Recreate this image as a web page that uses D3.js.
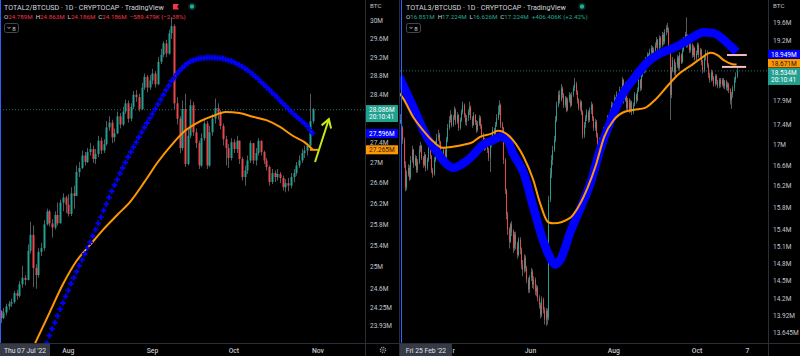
<!DOCTYPE html>
<html><head><meta charset="utf-8">
<script src="https://cdn.jsdelivr.net/npm/d3@7"></script>
<style>
html,body{margin:0;padding:0;background:#000;}
svg{display:block;font-family:Roboto,"Liberation Sans",sans-serif;}
</style></head><body>
<script>
// ---------- left chart: TOTAL2/BTCUSD 1D (values in M)
var leftStart = "2022-07-07";
var leftOpen0 = 24.20;
var leftClose = [24.07,24.17,24.28,24.33,24.36,24.52,24.47,24.68,24.80,24.76,
  25.30,25.60,24.98,24.85,25.28,25.35,25.80,26.05,25.82,25.74,
  25.98,25.82,26.22,26.32,26.18,26.00,26.40,26.35,26.82,26.90,
  27.15,27.02,27.22,27.28,27.08,27.18,27.45,27.25,27.38,27.72,
  27.82,27.52,27.60,27.95,27.78,28.05,28.22,27.90,28.15,28.40,
  28.35,28.10,28.55,28.78,28.55,28.70,28.85,28.62,29.10,29.25,
  29.50,29.28,29.72,29.88,28.22,27.90,27.30,28.10,26.98,27.55,
  28.18,27.62,27.40,26.95,27.50,27.80,26.95,27.62,27.90,28.12,
  28.02,27.75,27.48,27.30,27.10,27.42,27.28,27.45,27.08,26.72,
  26.85,27.05,27.40,27.05,27.20,27.45,27.22,27.05,26.92,26.62,
  26.80,26.72,26.78,26.70,26.52,26.60,26.55,26.72,26.80,26.95,
  27.05,27.20,27.25,27.35,27.85,28.09];
var leftHigh = [24.21,24.25,24.33,24.38,24.42,24.56,24.58,24.74,25.02,24.85,
  25.42,25.85,25.78,25.05,25.35,25.45,25.88,26.10,26.08,25.90,
  26.05,26.22,26.28,26.40,26.35,26.38,26.52,26.55,26.95,27.02,
  27.25,27.22,27.30,27.40,27.35,27.28,27.55,27.52,27.48,27.85,
  27.95,27.88,27.70,28.05,28.02,28.15,28.30,28.28,28.22,28.48,
  28.50,28.42,28.65,28.85,28.82,28.82,28.95,28.90,29.20,29.38,
  29.55,29.58,29.80,30.08,29.92,28.35,27.95,28.28,28.42,27.70,
  28.30,28.25,27.70,27.45,27.60,27.92,27.85,27.75,28.00,28.32,
  28.22,28.08,27.80,27.55,27.38,27.50,27.48,27.55,27.45,27.12,
  26.95,27.15,27.45,27.38,27.30,27.50,27.45,27.25,27.10,26.95,
  26.88,26.85,26.88,26.82,26.75,26.68,26.70,26.80,26.88,27.02,
  27.15,27.28,27.35,27.40,28.42,28.12];
var leftLow = [23.98,24.05,24.12,24.22,24.27,24.33,24.40,24.44,24.62,24.66,
  24.75,25.25,24.63,24.60,24.80,25.20,25.30,25.78,25.76,25.55,
  25.70,25.78,25.85,26.05,26.02,25.95,25.96,26.10,26.42,26.72,
  26.88,26.95,27.00,27.15,27.00,26.98,27.12,27.18,27.20,27.35,
  27.65,27.40,27.42,27.58,27.70,27.75,28.00,27.82,27.85,28.10,
  28.25,28.05,28.08,28.50,28.45,28.50,28.62,28.55,28.60,29.05,
  29.20,29.20,29.25,29.60,28.10,27.78,27.20,27.25,26.92,26.95,
  27.50,27.55,27.30,26.88,26.92,27.45,26.88,26.92,27.55,27.80,
  27.88,27.68,27.35,26.95,26.90,27.05,27.20,27.20,26.98,26.65,
  26.55,26.78,27.00,26.98,26.95,27.15,27.15,26.98,26.85,26.55,
  26.58,26.62,26.65,26.60,26.45,26.42,26.44,26.50,26.62,26.75,
  26.90,27.00,27.10,27.15,27.30,27.80];
// blue cross study, one value per bar from bar 16 on
var leftBlueFirst = 16;
var leftBlue = [23.51,23.63,23.76,23.88,23.99,24.11,24.23,24.34,24.46,24.57,
  24.69,24.80,24.91,25.02,25.13,25.24,25.35,25.46,25.58,25.70,
  25.82,25.94,26.07,26.19,26.32,26.44,26.56,26.67,26.79,26.90,
  27.01,27.12,27.22,27.32,27.42,27.52,27.62,27.72,27.81,27.91,
  28.00,28.10,28.20,28.30,28.40,28.50,28.59,28.69,28.76,28.84,
  28.91,28.97,29.02,29.07,29.11,29.13,29.15,29.17,29.18,29.18,
  29.19,29.19,29.19,29.19,29.18,29.18,29.17,29.15,29.13,29.12,
  29.09,29.06,29.03,29.00,28.96,28.92,28.88,28.83,28.78,28.73,
  28.67,28.62,28.56,28.51,28.45,28.40,28.34,28.28,28.22,28.17,
  28.11,28.05,28.00,27.95,27.90,27.85,27.80,27.75,27.67,27.60];
// orange MA: [bar, value]
var leftOrange = [[10,23.35],[13,23.65],[18,24.16],[23,24.68],[28,25.11],[33,25.41],[38,25.71],
  [43,25.98],[48,26.25],[53,26.62],[58,27.02],[63,27.36],[68,27.65],[73,27.83],[78,27.95],
  [83,28.04],[88,28.02],[93,27.94],[98,27.87],[103,27.73],[108,27.54],[112,27.42],[115,27.27]];
var leftTicks = [30, 29.6, 29.2, 28.8, 28.4, 27.4, 27, 26.6, 26.2, 25.8, 25.4, 25, 24.6, 24.25, 23.93];
var leftMonths = ["2022-08-01","2022-09-01","2022-10-01","2022-11-01"];
var leftMonthLabels = ["Aug","Sep","Oct","Nov"];
var leftLast = 28.086, leftBlueLast = 27.596, leftOrangeLast = 27.265;
var leftArrowDays = [115.9, 121.0], leftArrowVals = [27.02, 27.89];

// ---------- right chart: TOTAL3/BTCUSD 1D
var rightStart = "2022-02-25";
var rightOpen0 = 17.45;
var rightClose = [17.50,17.34,17.10,16.61,16.17,16.42,16.55,16.36,16.70,16.90,
  16.61,16.74,16.51,16.66,16.90,16.98,16.74,16.61,16.80,16.55,
  16.70,16.94,16.78,16.51,16.42,16.70,17.00,17.14,17.20,17.06,
  16.80,16.70,16.90,16.76,17.10,17.34,17.50,17.60,17.40,17.54,
  17.71,17.46,17.60,17.34,17.50,17.66,17.81,17.60,17.46,17.54,
  17.66,17.77,17.54,17.40,17.60,17.46,17.30,17.42,17.54,17.38,
  17.20,17.10,16.94,17.06,16.90,16.74,17.00,17.10,17.30,17.20,
  17.40,17.54,17.66,17.81,17.40,17.34,16.70,16.13,15.67,15.40,
  15.18,15.49,15.36,15.07,15.31,15.13,14.95,15.22,15.04,14.78,
  14.69,14.90,14.72,14.52,14.36,14.56,14.66,14.44,14.52,14.32,
  14.39,14.22,14.10,13.94,14.19,14.02,13.86,14.00,13.89,15.94,
  16.42,16.70,16.90,17.10,17.50,17.81,18.02,17.91,18.16,18.02,
  17.81,17.95,17.71,17.91,18.02,17.81,18.02,18.16,18.25,18.08,
  17.91,17.75,17.87,17.66,17.20,17.40,17.54,17.66,17.50,17.71,
  17.81,17.54,17.34,17.46,17.20,17.00,17.10,16.90,17.14,17.30,
  17.10,17.40,17.54,17.34,17.66,17.81,17.71,17.95,17.81,18.02,
  17.91,18.12,18.02,18.34,17.91,18.23,17.75,17.91,17.71,17.87,
  17.66,17.81,18.02,17.91,18.12,18.34,18.16,18.45,18.66,18.55,
  18.77,18.88,18.73,18.95,19.04,18.82,18.99,19.10,19.21,19.04,
  19.26,19.10,19.33,19.17,19.40,19.49,19.44,18.99,18.02,18.55,
  18.77,18.50,18.66,18.82,18.60,18.88,18.73,18.99,19.21,19.33,
  19.10,19.26,18.99,19.10,18.88,19.04,18.82,18.93,19.10,18.88,
  18.99,18.73,18.55,18.82,18.93,18.66,18.45,18.34,18.50,18.38,
  18.25,18.42,18.30,18.21,18.34,18.25,18.34,18.21,18.30,18.18,
  18.25,18.12,17.91,18.02,18.16,18.34,18.42,18.53];
var rightHigh = [17.62,17.55,17.38,17.15,16.68,16.50,16.62,16.60,16.78,16.98,
  16.92,16.80,16.78,16.72,16.98,17.06,17.00,16.78,16.86,16.82,
  16.75,17.02,16.98,16.80,16.55,16.76,17.08,17.22,17.30,17.24,
  17.08,16.84,16.95,16.94,17.16,17.42,17.58,17.70,17.62,17.60,
  17.78,17.74,17.66,17.62,17.55,17.72,17.88,17.84,17.64,17.60,
  17.72,17.88,17.80,17.58,17.66,17.62,17.50,17.48,17.60,17.58,
  17.42,17.24,17.14,17.12,17.10,16.94,17.05,17.18,17.36,17.34,
  17.46,17.62,17.80,17.91,17.84,17.46,17.36,16.74,16.15,15.72,
  15.44,15.52,15.55,15.40,15.36,15.36,15.18,15.26,15.26,15.08,
  14.86,14.96,14.94,14.76,14.56,14.60,14.72,14.70,14.58,14.56,
  14.44,14.42,14.26,14.14,14.24,14.22,14.06,14.05,14.04,16.02,
  16.55,16.80,16.98,17.18,17.58,17.88,18.10,18.12,18.25,18.20,
  18.06,18.00,17.98,17.96,18.08,18.05,18.08,18.22,18.38,18.30,
  18.12,17.95,17.92,17.90,17.70,17.46,17.60,17.72,17.70,17.76,
  17.88,17.84,17.58,17.52,17.50,17.24,17.15,17.14,17.18,17.36,
  17.34,17.46,17.60,17.58,17.72,17.88,17.86,18.02,17.98,18.10,
  18.06,18.20,18.18,18.40,18.36,18.30,18.28,17.96,17.95,17.92,
  17.90,17.86,18.08,18.06,18.18,18.40,18.36,18.52,18.72,18.70,
  18.84,18.94,18.92,19.02,19.10,19.08,19.05,19.16,19.28,19.24,
  19.32,19.30,19.40,19.38,19.46,19.55,19.60,19.50,19.05,18.62,
  18.84,18.80,18.72,18.88,18.86,18.94,18.92,19.04,19.28,19.40,
  19.73,19.34,19.30,19.16,19.14,19.10,19.06,18.98,19.16,19.14,
  19.04,19.02,18.78,18.88,19.00,18.98,18.70,18.50,18.56,18.54,
  18.42,18.46,18.46,18.34,18.38,18.38,18.38,18.38,18.34,18.34,
  18.30,18.28,18.16,18.08,18.22,18.40,18.50,18.60];
var rightLow = [17.42,17.28,17.02,16.55,16.10,16.12,16.38,16.30,16.32,16.65,
  16.55,16.58,16.45,16.46,16.62,16.85,16.70,16.55,16.58,16.48,
  16.50,16.66,16.72,16.45,16.36,16.40,16.66,16.95,17.08,17.00,
  16.74,16.62,16.66,16.68,16.72,17.05,17.30,17.45,17.35,17.36,
  17.50,17.40,17.42,17.28,17.30,17.46,17.62,17.55,17.40,17.38,
  17.48,17.60,17.50,17.34,17.38,17.40,17.24,17.26,17.38,17.32,
  17.14,17.04,16.88,16.90,16.84,16.68,16.47,16.95,17.06,17.12,
  17.16,17.36,17.50,17.60,17.34,17.20,16.62,16.05,15.58,15.30,
  15.06,15.16,15.28,14.98,15.02,15.05,14.88,14.92,14.96,14.70,
  14.58,14.64,14.66,14.46,14.30,14.30,14.50,14.38,14.36,14.26,
  14.24,14.16,14.04,13.88,13.90,13.96,13.78,13.76,13.78,13.85,
  15.90,16.35,16.60,16.86,17.05,17.46,17.76,17.84,17.88,17.95,
  17.75,17.76,17.66,17.68,17.86,17.76,17.78,17.98,18.10,18.02,
  17.84,17.70,17.68,17.60,17.12,17.14,17.34,17.48,17.44,17.46,
  17.62,17.48,17.28,17.28,17.14,16.92,16.88,16.82,16.86,17.08,
  17.04,17.06,17.36,17.28,17.30,17.60,17.64,17.68,17.74,17.78,
  17.84,17.88,17.96,17.98,17.84,17.88,17.68,17.70,17.64,17.66,
  17.60,17.62,17.78,17.84,17.88,18.08,18.10,18.12,18.40,18.48,
  18.50,18.70,18.66,18.68,18.88,18.76,18.78,18.94,19.04,18.98,
  19.00,19.04,19.06,19.10,19.12,19.32,19.38,18.92,17.50,17.95,
  18.50,18.44,18.42,18.60,18.54,18.56,18.68,18.70,18.95,19.12,
  19.04,19.05,18.92,18.94,18.82,18.84,18.76,18.74,18.88,18.82,
  18.80,18.66,18.48,18.50,18.76,18.60,18.38,18.28,18.30,18.32,
  18.20,18.20,18.24,18.16,18.16,18.18,18.20,18.16,18.14,18.12,
  18.10,18.06,17.82,17.73,17.96,18.10,18.28,18.38];
var rightBlue = [[0,18.40],[2,18.27],[10,17.77],[20,17.16],[28,16.84],[35,16.61],[39,16.55],
  [47,16.64],[54,16.80],[61,17.00],[69,17.10],[74,17.16],[79,17.10],[83,16.84],[91,16.45],
  [98,15.81],[105,15.22],[111,14.87],[114,14.78],[118,14.87],[125,15.34],[133,15.81],
  [140,16.26],[147,16.90],[155,17.50],[162,17.96],[172,18.38],[182,18.73],[192,18.93],
  [201,19.04],[208,19.15],[216,19.30],[223,19.39],[230,19.37],[238,19.21],[244,19.04],[247,18.95]];
var rightOrange = [[0,18.05],[2,17.98],[10,17.56],[17,17.30],[25,17.06],[32,16.94],[39,16.96],
  [47,17.00],[54,17.06],[59,17.16],[67,17.22],[72,17.28],[76,17.26],[83,17.10],[91,16.76],
  [98,16.32],[103,15.88],[109,15.53],[113,15.51],[125,15.61],[131,15.81],[138,16.18],
  [144,16.61],[150,17.16],[157,17.50],[165,17.67],[172,17.71],[180,17.75],[187,17.91],
  [197,18.23],[204,18.45],[214,18.66],[221,18.81],[228,18.93],[233,18.88],[238,18.76],
  [244,18.68],[247,18.67]];
var rightTicks = [19.6, 19.2, 17.9, 17.4, 17, 16.6, 16.2, 15.8, 15.4, 15.1, 14.8, 14.5, 14.2, 13.92, 13.645];
var rightTimes = ["2022-06-01","2022-08-01","2022-10-01","2022-11-07"];
var rightTimeLabels = ["Jun","Aug","Oct","7"];
var rightLast = 18.534, rightBlueLast = 18.949, rightOrangeLast = 18.671;
// two short horizontal rays drawn by the user: [fromDay, toDay, value]
var rightRays = [[240, 254.5, 18.88], [236.3, 254, 18.62]];

var parse = d3.utcParse("%Y-%m-%d");
var UP = "#22a091", DOWN = "#e8484a", WICK = "#555962", AXT = "#c3c6cc", GRID = "#2a2e39";

var svg = d3.select("body").append("svg").attr("width", 800).attr("height", 356);
svg.append("rect").attr("width", 800).attr("height", 356).attr("fill", "#000");

var defs = svg.append("defs");
defs.append("clipPath").attr("id", "clipL").append("rect").attr("x", 0).attr("y", 0).attr("width", 365).attr("height", 343);
defs.append("clipPath").attr("id", "clipR").append("rect").attr("x", 400).attr("y", 0).attr("width", 368).attr("height", 343);

function makeBars(start, open0, close, high, low) {
  return close.map(function(c, i) {
    var o = i ? close[i - 1] : open0;
    return {d: d3.utcDay.offset(start, i), o: o, c: c,
      h: Math.max(high[i], o, c), l: Math.min(low[i], o, c)};
  });
}

function drawCandles(g, bars, x, y, bw) {
  g.selectAll(null).data(bars).enter().append("line")
    .attr("x1", function(d){ return Math.round(x(d.d)) + 0.5; })
    .attr("x2", function(d){ return Math.round(x(d.d)) + 0.5; })
    .attr("y1", function(d){ return y(d.h); })
    .attr("y2", function(d){ return y(d.l); })
    .attr("stroke", WICK).attr("stroke-width", 1);
  g.selectAll(null).data(bars).enter().append("rect")
    .attr("x", function(d){ return Math.round(x(d.d)) + (bw > 1 ? -0.5 : 0); })
    .attr("width", bw)
    .attr("y", function(d){ return y(Math.max(d.o, d.c)); })
    .attr("height", function(d){ return Math.max(1, Math.abs(y(d.o) - y(d.c))); })
    .attr("fill", function(d){ return d.c >= d.o ? UP : DOWN; });
}

function axisLabels(g, ticks, y, lx) {
  g.selectAll(null).data(ticks).enter().append("text")
    .attr("x", lx).attr("y", function(d){ return y(d) + 2.3; })
    .attr("fill", AXT).attr("font-size", 6.5).text(function(d){ return d + "M"; });
  g.append("text").attr("x", lx).attr("y", 8).attr("fill", AXT).attr("font-size", 6.2).text("BTC");
}

function priceBox(g, x, top, w, h, fill, col, lines) {
  g.append("rect").attr("x", x).attr("y", top).attr("width", w).attr("height", h).attr("fill", fill);
  lines.forEach(function(t, i) {
    g.append("text").attr("x", x + 3).attr("y", top + 6.8 + i * 7.6).attr("fill", col)
      .attr("font-size", 6.5).text(t);
  });
}

function header(g, x0, title, ohlc, change, col) {
  g.append("text").attr("x", x0).attr("y", 10).attr("fill", "#d1d4dc").attr("font-size", 8)
    .attr("textLength", 160).attr("lengthAdjust", "spacingAndGlyphs").text(title);
  var t = g.append("text").attr("x", x0).attr("y", 18.5).attr("font-size", 6.2);
  ohlc.forEach(function(p, i) {
    t.append("tspan").attr("fill", "#d1d4dc").attr("dx", i ? 3 : 0).text(p[0]);
    t.append("tspan").attr("fill", col).text(p[1]);
  });
  t.append("tspan").attr("fill", col).attr("dx", 3).text(change);
  // collapsed indicators button
  g.append("rect").attr("x", x0 + 0.5).attr("y", 23.5).attr("width", 14).attr("height", 9).attr("rx", 2)
    .attr("fill", "none").attr("stroke", "#434651");
  g.append("path").attr("d", "M" + (x0 + 3.5) + ",27 l1.5,1.5 l1.5,-1.5")
    .attr("fill", "none").attr("stroke", "#d1d4dc").attr("stroke-width", 0.8);
  g.append("text").attr("x", x0 + 8.3).attr("y", 30.5).attr("fill", "#d1d4dc").attr("font-size", 6.2).text("8");
}

function dot(g, cx) {
  g.append("circle").attr("cx", cx).attr("cy", 6.5).attr("r", 4).attr("fill", "#22ab94").attr("opacity", 0.2);
  g.append("circle").attr("cx", cx).attr("cy", 6.5).attr("r", 2.2).attr("fill", "#22ab94");
}

// ======================= LEFT PANEL =======================
var xL = d3.scaleUtc().domain([parse(leftStart), parse("2022-11-01")]).range([0.5, 318]);
var yL = d3.scaleLog().domain([30, 23.93]).range([20.7, 326]);
var L = svg.append("g");
var Lp = L.append("g").attr("clip-path", "url(#clipL)");
var lStart = parse(leftStart);

Lp.append("line").attr("x1", 0).attr("x2", 365).attr("y1", yL(leftLast)).attr("y2", yL(leftLast))
  .attr("stroke", "#26a69a").attr("stroke-dasharray", "1,2").attr("opacity", 0.7);

drawCandles(Lp, makeBars(lStart, leftOpen0, leftClose, leftHigh, leftLow), xL, yL, 2);

Lp.append("path")
  .datum(leftOrange)
  .attr("d", d3.line().curve(d3.curveMonotoneX)
    .x(function(d){ return xL(d3.utcDay.offset(lStart, d[0])); })
    .y(function(d){ return yL(d[1]); }))
  .attr("fill", "none").attr("stroke", "#ff9800").attr("stroke-width", 2);
Lp.append("line").attr("x1", xL(d3.utcDay.offset(lStart, 114))).attr("x2", xL(d3.utcDay.offset(lStart, 117)))
  .attr("y1", yL(leftOrangeLast)).attr("y2", yL(leftOrangeLast)).attr("stroke", "#ff9800").attr("stroke-width", 2);

Lp.selectAll(null).data(leftBlue).enter().append("path")
  .attr("d", function(v, i) {
    var cx = xL(d3.utcDay.offset(lStart, leftBlueFirst + i)), cy = yL(v);
    return "M" + (cx - 2.8) + "," + cy + "h5.6M" + cx + "," + (cy - 2.8) + "v5.6";
  })
  .attr("stroke", "#0000ff").attr("stroke-width", 1.9).attr("fill", "none");

// arrow annotation
(function() {
  var ax = leftArrowDays.map(function(dd){ return xL(new Date(lStart.getTime() + dd * 864e5)); });
  var ay = leftArrowVals.map(function(v){ return yL(v); });
  var ang = Math.atan2(ay[1] - ay[0], ax[1] - ax[0]), hl = 9.5, sp = 0.55;
  var p = "M" + ax[0] + "," + ay[0] + "L" + ax[1] + "," + ay[1] +
    "M" + (ax[1] - hl * Math.cos(ang - sp)) + "," + (ay[1] - hl * Math.sin(ang - sp)) +
    "L" + ax[1] + "," + ay[1] +
    "L" + (ax[1] - hl * Math.cos(ang + sp)) + "," + (ay[1] - hl * Math.sin(ang + sp));
  L.append("path").attr("d", p).attr("fill", "none").attr("stroke", "#c6e814").attr("stroke-width", 2)
    .attr("stroke-linejoin", "miter");
})();

// frame + axes
L.append("line").attr("x1", 365.5).attr("x2", 365.5).attr("y1", 0).attr("y2", 356).attr("stroke", GRID);
L.append("line").attr("x1", 0).attr("x2", 399).attr("y1", 343.5).attr("y2", 343.5).attr("stroke", GRID);
L.append("line").attr("x1", 0.5).attr("x2", 0.5).attr("y1", 0).attr("y2", 343).attr("stroke", "#2962ff");
axisLabels(L, leftTicks, yL, 370);
priceBox(L, 366, yL(leftLast) - 4.7, 32, 17, "#22a08f", "#fff", [leftLast + "M", "20:10:41"]);
priceBox(L, 366, yL(leftBlueLast) - 4.5, 32, 9, "#0000ff", "#fff", [leftBlueLast + "M"]);
priceBox(L, 366, yL(leftOrangeLast) - 4.5, 32, 9, "#ff9800", "#1a1a1a", [leftOrangeLast + "M"]);

L.selectAll(null).data(leftMonths).enter().append("text")
  .attr("x", function(d){ return xL(parse(d)); }).attr("y", 352.5).attr("text-anchor", "middle")
  .attr("fill", AXT).attr("font-size", 6.8).attr("font-weight", 500)
  .text(function(d, i){ return leftMonthLabels[i]; });
L.append("rect").attr("x", 0).attr("y", 344).attr("width", 50).attr("height", 12).attr("fill", "#363a45");
L.append("text").attr("x", 25).attr("y", 352.5).attr("text-anchor", "middle").attr("fill", "#e0e3eb")
  .attr("font-size", 6.8).text("Thu 07 Jul '22");
L.append("circle").attr("cx", 383).attr("cy", 350).attr("r", 2.6).attr("fill", "none")
  .attr("stroke", "#9598a1").attr("stroke-width", 1.3).attr("stroke-dasharray", "1.2,0.8");
L.append("circle").attr("cx", 383).attr("cy", 350).attr("r", 1).attr("fill", "#000").attr("stroke", "#9598a1").attr("stroke-width", 0.6);

header(L, 4, "TOTAL2/BTCUSD \u00b7 1D \u00b7 CRYPTOCAP \u00b7 TradingView",
  [["O","24.789M"],["H","24.863M"],["L","24.186M"],["C","24.186M"]], "\u2212589.479K (\u22122.38%)", "#f23645");
L.append("path").attr("d", "M173,4h6l-1.8,2.7l1.8,2.7h-6z").attr("fill", "#f23645");
dot(L, 192);

// separator between panels
svg.append("line").attr("x1", 399.5).attr("x2", 399.5).attr("y1", 0).attr("y2", 356).attr("stroke", GRID);

// ======================= RIGHT PANEL =======================
var xR = d3.scaleUtc().domain([parse(rightStart), parse("2022-10-01")]).range([399.5, 697]);
var yR = d3.scaleLog().domain([19.6, 13.645]).range([23, 333]);
var R = svg.append("g");
var Rp = R.append("g").attr("clip-path", "url(#clipR)");
var rStart = parse(rightStart);

Rp.append("line").attr("x1", 400).attr("x2", 768).attr("y1", yR(rightLast)).attr("y2", yR(rightLast))
  .attr("stroke", "#26a69a").attr("stroke-dasharray", "1,2").attr("opacity", 0.7);

drawCandles(Rp, makeBars(rStart, rightOpen0, rightClose, rightHigh, rightLow), xR, yR, 1);

Rp.append("path")
  .datum(rightBlue)
  .attr("d", d3.line().curve(d3.curveMonotoneX)
    .x(function(d){ return xR(d3.utcDay.offset(rStart, d[0])); })
    .y(function(d){ return yR(d[1]); }))
  .attr("fill", "none").attr("stroke", "#0000ff").attr("stroke-width", 8.5);

Rp.append("path")
  .datum(rightOrange)
  .attr("d", d3.line().curve(d3.curveMonotoneX)
    .x(function(d){ return xR(d3.utcDay.offset(rStart, d[0])); })
    .y(function(d){ return yR(d[1]); }))
  .attr("fill", "none").attr("stroke", "#ff9800").attr("stroke-width", 2);

rightRays.forEach(function(r) {
  Rp.append("line")
    .attr("x1", xR(new Date(rStart.getTime() + r[0] * 864e5)))
    .attr("x2", xR(new Date(rStart.getTime() + r[1] * 864e5)))
    .attr("y1", yR(r[2])).attr("y2", yR(r[2]))
    .attr("stroke", "#f6bcc6").attr("stroke-width", 2);
});

R.append("line").attr("x1", 768.5).attr("x2", 768.5).attr("y1", 0).attr("y2", 356).attr("stroke", GRID);
R.append("line").attr("x1", 400).attr("x2", 800).attr("y1", 343.5).attr("y2", 343.5).attr("stroke", GRID);
R.append("line").attr("x1", 401.5).attr("x2", 401.5).attr("y1", 0).attr("y2", 343).attr("stroke", "#2962ff");
axisLabels(R, rightTicks, yR, 773);
priceBox(R, 768, yR(rightBlueLast) - 2, 32, 8.5, "#0000ff", "#fff", [rightBlueLast + "M"]);
priceBox(R, 768, yR(rightOrangeLast) - 5.6, 32, 8.5, "#ff9800", "#1a1a1a", [rightOrangeLast + "M"]);
priceBox(R, 768, yR(rightLast) - 2.9, 32, 17, "#22a08f", "#fff", [rightLast + "M", "20:10:41"]);

R.selectAll(null).data(rightTimes).enter().append("text")
  .attr("x", function(d){ return xR(parse(d)); }).attr("y", 352.5).attr("text-anchor", "middle")
  .attr("fill", AXT).attr("font-size", 6.8).attr("font-weight", 500)
  .text(function(d, i){ return rightTimeLabels[i]; });
R.append("rect").attr("x", 400).attr("y", 344).attr("width", 52).attr("height", 12).attr("fill", "#363a45");
R.append("text").attr("x", 426).attr("y", 352.5).attr("text-anchor", "middle").attr("fill", "#e0e3eb")
  .attr("font-size", 6.8).text("Fri 25 Feb '22");
// tail of the "Apr" tick label peeking out beside the start-date box
R.append("text").attr("x", 452.5).attr("y", 352.5).attr("fill", AXT).attr("font-size", 6.8)
  .attr("font-weight", 500).text("r");

header(R, 406, "TOTAL3/BTCUSD \u00b7 1D \u00b7 CRYPTOCAP \u00b7 TradingView",
  [["O","16.851M"],["H","17.224M"],["L","16.626M"],["C","17.224M"]], "+406.406K (+2.42%)", "#22ab94");
dot(R, 582);
</script>
</body></html>
